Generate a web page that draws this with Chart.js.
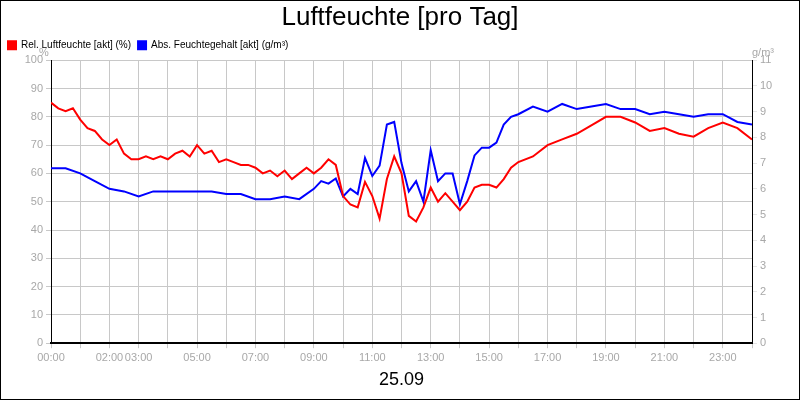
<!DOCTYPE html>
<html><head><meta charset="utf-8">
<script src="https://cdn.jsdelivr.net/npm/chart.js@4"></script>
<style>
body{margin:0;background:#fff}
#wrap{width:798px;height:398px;border:1px solid #000;position:relative}
</style></head><body>
<div id="wrap"><canvas id="c" width="798" height="398"></canvas></div>
<script>
// --- DATA ---
const relTimes = [0,0.25,0.5,0.75,1,1.25,1.5,1.75,2,2.25,2.5,2.75,3,3.25,3.5,3.75,4,4.25,4.5,4.75,5,5.25,5.5,5.75,6,6.25,6.5,6.75,7,7.25,7.5,7.75,8,8.25,8.5,8.75,9,9.25,9.5,9.75,10,10.25,10.5,10.75,11,11.25,11.5,11.75,12,12.25,12.5,12.75,13,13.25,13.5,13.75,14,14.25,14.5,14.75,15,15.25,15.5,15.75,16,16.5,17,17.5,18,18.5,19,19.5,20,20.5,21,21.5,22,22.5,23,23.5,24];
const relValues = [85,83,82,83,79,76,75,72,70,72,67,65,65,66,65,66,65,67,68,66,70,67,68,64,65,64,63,63,62,60,61,59,61,58,60,62,60,62,65,63,52,49,48,57,52,44,58,66,60,45,43,48,55,50,53,50,47,50,55,56,56,55,58,62,64,66,70,72,74,77,80,80,78,75,76,74,73,76,78,76,72];
const absTimes = [0,0.5,1,1.5,2,2.5,3,3.5,4,4.5,5,5.5,6,6.5,7,7.5,8,8.5,9,9.25,9.5,9.75,10,10.25,10.5,10.75,11,11.25,11.5,11.75,12,12.25,12.5,12.75,13,13.25,13.5,13.75,14,14.25,14.5,14.75,15,15.25,15.5,15.75,16,16.5,17,17.5,18,18.5,19,19.5,20,20.5,21,21.5,22,22.5,23,23.5,24];
const absValues = [6.8,6.8,6.6,6.3,6.0,5.9,5.7,5.9,5.9,5.9,5.9,5.9,5.8,5.8,5.6,5.6,5.7,5.6,6.0,6.3,6.2,6.4,5.7,6.0,5.8,7.2,6.5,6.9,8.5,8.6,7.0,5.9,6.3,5.5,7.5,6.3,6.6,6.6,5.4,6.3,7.3,7.6,7.6,7.8,8.5,8.8,8.9,9.2,9.0,9.3,9.1,9.2,9.3,9.1,9.1,8.9,9.0,8.9,8.8,8.9,8.9,8.6,8.5];
const hourLabels = {0:'00:00',2:'02:00',3:'03:00',5:'05:00',7:'07:00',9:'09:00',11:'11:00',13:'13:00',15:'15:00',17:'17:00',19:'19:00',21:'21:00',23:'23:00'};
const seriesNames = ['Rel. Luftfeuchte [akt] (%)','Abs. Feuchtegehalt [akt] (g/m³)'];

const pts = (t, v) => t.map((x, i) => ({x, y: v[i]}));
const tickColor = '#a8a8a8';
const gridColor = '#c8c8c8';

const units = {
  id: 'units',
  afterLayout(chart){
    // legend starts over the plot, not at the canvas edge
    const lg = chart.legend;
    if (lg && lg.legendHitBoxes) lg.legendHitBoxes.forEach(b => { b.left += 50; });
  },
  afterDraw(chart){
    const {ctx} = chart;
    ctx.save();
    ctx.font = '11px "Liberation Sans", Arial';
    ctx.fillStyle = tickColor;
    ctx.textAlign = 'center';
    ctx.fillText('%', 43, 52);
    ctx.fillText('g/m³', 762, 52);
    ctx.restore();
  }
};

new Chart(document.getElementById('c'), {
  type: 'line',
  data: {datasets: [
    {label: seriesNames[0], data: pts(relTimes, relValues), borderColor: '#ff0000', backgroundColor: '#ff0000', yAxisID: 'y', borderWidth: 2, pointRadius: 0, tension: 0},
    {label: seriesNames[1], data: pts(absTimes, absValues), borderColor: '#0000ff', backgroundColor: '#0000ff', yAxisID: 'y2', borderWidth: 2, pointRadius: 0, tension: 0}
  ]},
  options: {
    responsive: false, animation: false,
    layout: {padding: {left: 0, right: 0, top: 0, bottom: 0}},
    plugins: {
      title: {display: true, text: 'Luftfeuchte [pro Tag]', color: '#000', font: {family: '"Liberation Sans", Arial', size: 26, weight: 'normal'}, padding: {top: 1, bottom: 0}},
      legend: {align: 'start', labels: {boxWidth: 8, boxHeight: 8, padding: 7, color: '#000', font: {family: '"Liberation Sans", Arial', size: 10}}},
      tooltip: {enabled: false}
    },
    scales: {
      x: {type: 'linear', min: 0, max: 24,
        ticks: {stepSize: 1, autoSkip: false, maxRotation: 0, color: tickColor, font: {family: '"Liberation Sans", Arial', size: 11}, callback: v => hourLabels[v] || ''},
        grid: {color: gridColor, tickLength: 5},
        border: {color: '#000', width: 2},
        title: {display: true, text: '25.09', color: '#000', font: {family: '"Liberation Sans", Arial', size: 18}, padding: {top: 2, bottom: 8}}
      },
      y: {position: 'left', min: 0, max: 100,
        ticks: {stepSize: 10, color: tickColor, font: {family: '"Liberation Sans", Arial', size: 11}},
        grid: {color: gridColor, tickLength: 5},
        border: {color: '#000', width: 1},
        afterFit: s => { s.width = 50; }
      },
      y2: {position: 'right', min: 0, max: 11,
        ticks: {stepSize: 1, color: tickColor, font: {family: '"Liberation Sans", Arial', size: 11}},
        grid: {drawOnChartArea: false, tickLength: 5},
        border: {color: '#000', width: 1},
        afterFit: s => { s.width = 47; }
      }
    }
  },
  plugins: [units]
});
</script>
</body></html>
